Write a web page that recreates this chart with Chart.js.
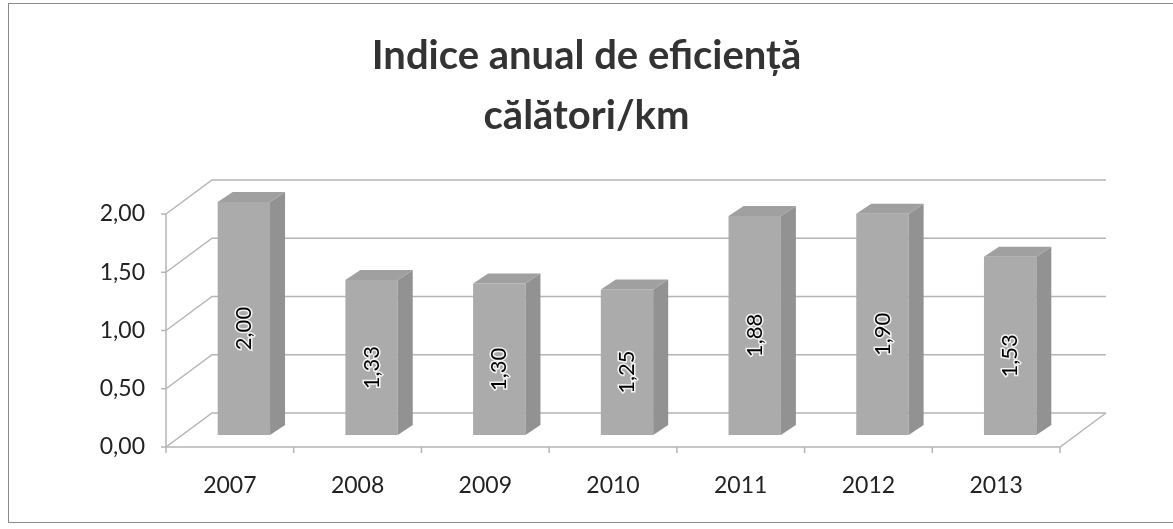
<!DOCTYPE html>
<html>
<head>
<meta charset="utf-8">
<script src="https://cdn.jsdelivr.net/npm/chart.js@4.4.1/dist/chart.umd.min.js"></script>
<style>
  html, body { margin: 0; padding: 0; background: #fff; }
  canvas { display: block; }
</style>
</head>
<body>
<canvas id="chart" width="1173" height="529"></canvas>
<script>
const years       = ['2007', '2008', '2009', '2010', '2011', '2012', '2013'];
const indexValues = [2.00, 1.33, 1.30, 1.25, 1.88, 1.90, 1.53];
const yTicks      = [0, 0.5, 1, 1.5, 2];
const titleLines  = ['Indice anual de eficiență', 'călători/km'];

// 3D look: offsets of the front and back planes relative to the bar plane
const FRONT = { dx: -14, dy: 12 };
const BACK  = { dx: 32, dy: -22 };
const DEPTH = { dx: 15, dy: -10 };

const fmt = v => v.toFixed(2).replace('.', ',');

Chart.defaults.font.family = 'Lato';

const wallsPlugin = {
  id: 'walls',
  beforeDatasetsDraw(chart) {
    const { ctx, chartArea: a, scales: { y } } = chart;
    const fl = a.left + FRONT.dx, fr = a.right + FRONT.dx;
    const bl = a.left + BACK.dx,  br = a.right + BACK.dx;
    const y0 = y.getPixelForValue(0);
    ctx.save();
    ctx.strokeStyle = '#b5b5b5';
    ctx.lineWidth = 1.5;
    yTicks.forEach(v => {
      const py = y.getPixelForValue(v);
      ctx.beginPath();
      ctx.moveTo(fl, py + FRONT.dy);
      ctx.lineTo(bl, py + BACK.dy);
      ctx.lineTo(br, py + BACK.dy);
      ctx.stroke();
      // small tick on the front axis
      ctx.beginPath();
      ctx.moveTo(fl - 5, py + FRONT.dy);
      ctx.lineTo(fl, py + FRONT.dy);
      ctx.stroke();
    });
    // front vertical axis
    ctx.beginPath();
    ctx.moveTo(fl, y0 + FRONT.dy);
    ctx.lineTo(fl, y.getPixelForValue(2) + FRONT.dy);
    ctx.stroke();
    // floor front and right edges
    ctx.beginPath();
    ctx.moveTo(fl, y0 + FRONT.dy);
    ctx.lineTo(fr, y0 + FRONT.dy);
    ctx.lineTo(br, y0 + BACK.dy);
    ctx.stroke();
    // category ticks on the floor front edge
    const step = (a.right - a.left) / years.length;
    for (let i = 0; i <= years.length; i++) {
      const px = fl + i * step;
      ctx.beginPath();
      ctx.moveTo(px, y0 + FRONT.dy);
      ctx.lineTo(px, y0 + FRONT.dy + 6);
      ctx.stroke();
    }
    ctx.restore();
  }
};

const bar3dPlugin = {
  id: 'bar3d',
  afterDatasetsDraw(chart) {
    const { ctx } = chart;
    const meta = chart.getDatasetMeta(0);
    ctx.save();
    meta.data.forEach((bar, i) => {
      const l = bar.x - bar.width / 2, r = bar.x + bar.width / 2;
      const t = bar.y, b = bar.base;
      // side face
      ctx.fillStyle = '#929292';
      ctx.beginPath();
      ctx.moveTo(r, t);
      ctx.lineTo(r + DEPTH.dx, t + DEPTH.dy);
      ctx.lineTo(r + DEPTH.dx, b + DEPTH.dy);
      ctx.lineTo(r, b);
      ctx.closePath();
      ctx.fill();
      // top face
      ctx.fillStyle = '#a0a0a0';
      ctx.beginPath();
      ctx.moveTo(l, t);
      ctx.lineTo(l + DEPTH.dx, t + DEPTH.dy);
      ctx.lineTo(r + DEPTH.dx, t + DEPTH.dy);
      ctx.lineTo(r, t);
      ctx.closePath();
      ctx.fill();

      // value label, rotated
      ctx.save();
      ctx.translate(bar.x, (t + b) / 2 + 10);
      ctx.rotate(-Math.PI / 2);
      ctx.font = '22px Lato';
      ctx.textAlign = 'center';
      ctx.textBaseline = 'middle';
      ctx.lineWidth = 3;
      ctx.strokeStyle = 'rgba(255,255,255,0.85)';
      ctx.strokeText(fmt(indexValues[i]), 0, 0);
      ctx.fillStyle = '#000';
      ctx.fillText(fmt(indexValues[i]), 0, 0);
      ctx.restore();
    });
    ctx.restore();
  }
};

const framePlugin = {
  id: 'frame',
  afterDraw(chart) {
    const { ctx } = chart;
    ctx.save();
    ctx.strokeStyle = '#8a8a8a';
    ctx.lineWidth = 1;
    ctx.strokeRect(8.5, 3.5, 1200, 519);
    ctx.restore();
  }
};

new Chart(document.getElementById('chart'), {
  type: 'bar',
  data: {
    labels: years,
    datasets: [{
      data: indexValues,
      backgroundColor: '#ababab',
      borderWidth: 0,
      categoryPercentage: 1,
      barPercentage: 0.41
    }]
  },
  options: {
    responsive: false,
    animation: false,
    layout: { padding: 0 },
    plugins: {
      legend: { display: false },
      tooltip: { enabled: false },
      title: {
        display: true,
        text: titleLines,
        color: '#333',
        font: { family: 'Lato', size: 40, weight: 'bold', lineHeight: 1.5 },
        padding: { top: 26, bottom: 56 }
      }
    },
    scales: {
      x: {
        grid: { display: false, drawTicks: false },
        border: { display: false },
        ticks: { padding: 37, labelOffset: FRONT.dx, color: '#222', font: { size: 23 } },
        afterFit(s) { s.height = 94; }
      },
      y: {
        min: 0,
        max: 2,
        grid: { display: false, drawTicks: false },
        border: { display: false },
        afterBuildTicks(s) { s.ticks = yTicks.map(v => ({ value: v })); },
        ticks: {
          padding: 35,
          labelOffset: FRONT.dy,
          color: '#222',
          font: { size: 23 },
          callback: v => fmt(v)
        },
        afterFit(s) { s.width = 180; }
      },
      // empty right axis: only reserves the space right of the plot
      yRight: {
        position: 'right',
        min: 0,
        max: 2,
        grid: { display: false, drawTicks: false },
        border: { display: false },
        ticks: { display: false },
        afterFit(s) { s.width = 99; }
      }
    }
  },
  plugins: [wallsPlugin, bar3dPlugin, framePlugin]
});
</script>
</body>
</html>
